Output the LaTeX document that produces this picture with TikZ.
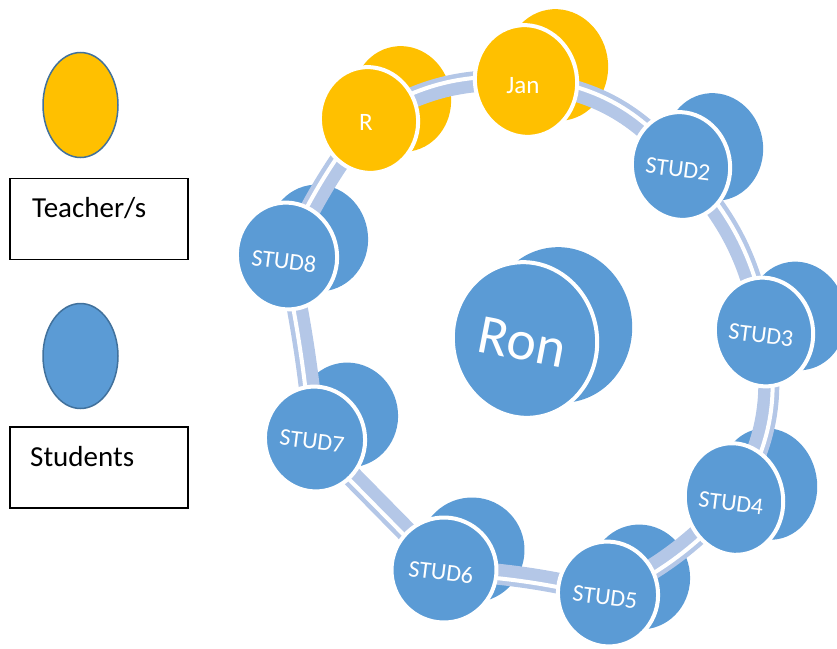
\documentclass[tikz,border=0pt]{standalone}
\usepackage{fontspec}
\setmainfont{Carlito}
\usetikzlibrary{shapes.geometric,calc}
\definecolor{discblue}{HTML}{5B9BD5}
\definecolor{discgold}{HTML}{FFC000}
\definecolor{ringband}{HTML}{B4C7E7}
\definecolor{keyline}{HTML}{41719C}
\pgfdeclarelayer{backfaces}
\pgfdeclarelayer{bands}
\pgfsetlayers{backfaces,bands,main}

\begin{document}
\begin{tikzpicture}[x=1pt,y=1pt,
  disc/.style 2 args={ellipse, inner sep=0pt, outer sep=0pt, rotate=10,
    minimum width=#1, minimum height=#2},
  frontface/.style={draw=white, line width=4pt},
  disctext/.style={text=white, inner sep=0pt},
  bandbase/.style={draw=ringband, line width=21pt},
  bandgap/.style={draw=white, line width=4pt},
  keydisc/.style={ellipse, draw=keyline, line width=1.5pt, inner sep=0pt,
    minimum width=75, minimum height=105},
  keybox/.style={draw=black, line width=1.4pt, inner sep=0pt,
    minimum width=178, minimum height=81},
  keytext/.style={anchor=base west, inner sep=0pt, font=\fontsize{29}{30}\selectfont}
]
\useasboundingbox (0,0) rectangle (837,-648);
\clip (0,0) rectangle (837,-648);

% key on the left
\node[keydisc, fill=discgold] (keyT) at (80.5,-105) {};
\node[keybox] (boxT) at (99,-219) {};
\node[keytext] (txtT) at (32,-217) {Teacher/s};
\node[keydisc, fill=discblue] (keyS) at (80.5,-356) {};
\node[keybox] (boxS) at (99,-467.5) {};
\node[keytext] (txtS) at (30,-466) {Students};

% discs of the ring and the centre disc: front face, back face offset up-right
\foreach \n/\x/\y/\w/\h/\dx/\dy/\c/\fs/\t/\tr/\ty in {
  R/369/120/98/106/33/21/discgold/25/R/0/-2,
  Jan/526/81/102/112/31/16/discgold/25/Jan/0/-5,
  S2/681/166/98/108/33/19/discblue/24/STUD2/-7/-3,
  S3/764/332/98/109/33/16/discblue/24/STUD3/-7/-3,
  S4/734/499/98/112/34/15/discblue/24/STUD4/-7/-4,
  S5/608/594/100/105/32/17/discblue/24/STUD5/-7/-3,
  S6/444/570/105/105/28/20/discblue/24/STUD6/-7/-2,
  S7/315/439/100/105/33/24/discblue/24/STUD7/-7/-2,
  S8/287/256/100/107/31/18/discblue/24/STUD8/-7/-5,
  Ron/525/340/144/156/35/15/discblue/56/Ron/-11/-2}{
  \begin{pgfonlayer}{backfaces}
    \node[disc={\w}{\h}, fill=\c] (\n-back) at (\x+\dx,-\y+\dy) {};
  \end{pgfonlayer}
  \node[disc={\w}{\h}, fill=\c, frontface] (\n) at (\x,-\y) {};
  \node[disctext, font=\fontsize{\fs}{\fs}\selectfont, rotate=\tr]
    (\n-label) at (\x-3,-\y+\ty) {\t};
}

% ribbon bands joining the ring: a wide stripe split by a white groove
% lying nearer the outer edge of the ring
\begin{pgfonlayer}{bands}
  \foreach \a/\b/\k/\sx/\sy in {R/Jan/17/-1.2/3.8, Jan/S2/22/1.4/3.7,
      S2/S3/16/3.6/1.7, S3/S4/20/3.8/-1.3, S4/S5/10/2.3/-3.3,
      S5/S6/-5/0/-4, S6/S7/0/-2.6/-3, S7/S8/-3/-4/0, S8/R/6/-3.2/2.4}{
    \draw[bandbase] (\a.center) to[bend left=\k] (\b.center);
    \draw[bandgap] ($(\a.center)+(\sx,\sy)$) to[bend left=\k] ($(\b.center)+(\sx,\sy)$);
  }
\end{pgfonlayer}
\end{tikzpicture}
\end{document}
